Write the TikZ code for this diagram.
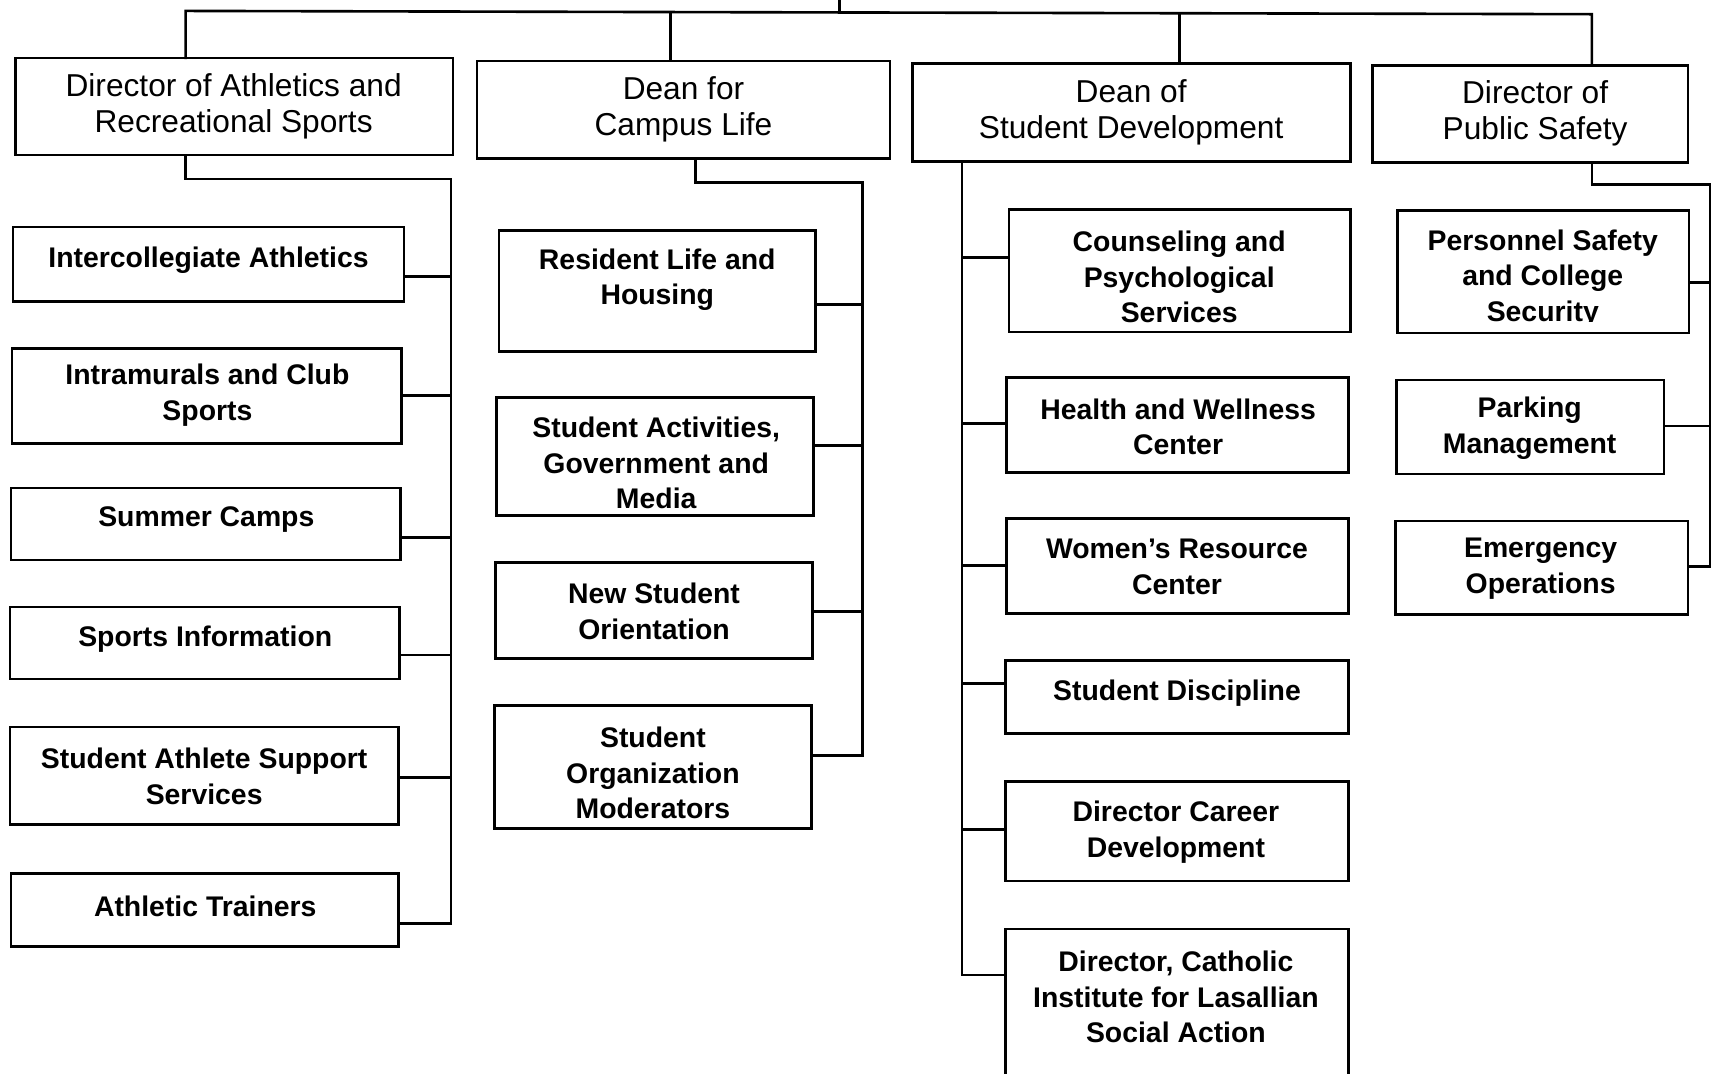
\documentclass[tikz,border=0pt]{standalone}
\usepackage{fontspec}
\setmainfont{Liberation Sans}
\tikzset{
  box/.style={draw=black, line width=2.4pt, fill=white, rectangle, inner sep=0pt, outer sep=0pt},
  toplbl/.style={align=center, font=\fontsize{29}{33}\selectfont, inner sep=0pt},
  lbl/.style={align=center, font=\bfseries\fontsize{26}{32.5}\selectfont, inner sep=0pt},
  conn/.style={draw=black, line width=2.4pt, line cap=rect, line join=miter},
}
\newcommand\orgbox[5]{%
  \node[box, minimum width={(#4-#2)*1pt}, minimum height={(#5-#3)*1pt}] (#1) at ({(#2+#4)/2},{(#3+#5)/2}) {};}
\begin{document}
\begin{tikzpicture}[x=1pt,y=-1pt]
\useasboundingbox (0,0) rectangle (1568,982.8);
% ---- top row boxes
\orgbox{b1}{14}{53}{415}{142}
\orgbox{b2}{437}{56}{815}{145}
\orgbox{b3}{836}{58}{1237}{148}
\orgbox{b4}{1257}{60}{1546}{149}
\node[toplbl] (tb1) at (214,97) {Director of Athletics and\\Recreational Sports};
\node[toplbl] (tb2) at (626,100) {Dean for\\Campus Life};
\node[toplbl] (tb3) at (1036,103) {Dean of\\Student Development};
\node[toplbl] (tb4) at (1406,104) {Director of\\Public Safety};
% ---- athletics children
\orgbox{a1}{12}{208}{370}{276}
\orgbox{a2}{11}{319}{368}{406}
\orgbox{a3}{10}{447}{367}{513}
\orgbox{a4}{9}{556}{366}{622}
\orgbox{a5}{9}{666}{365}{755}
\orgbox{a6}{10}{800}{365}{867}
\node[lbl] (ta1) at (191,238) {Intercollegiate Athletics};
\node[lbl] (ta2) at (190,362) {Intramurals and Club\\Sports};
\node[lbl] (ta3) at (189,476) {Summer Camps};
\node[lbl] (ta4) at (188,585) {Sports Information};
\node[lbl] (ta5) at (187,711) {Student Athlete Support\\Services};
\node[lbl] (ta6) at (188,830) {Athletic Trainers};
% ---- campus life children
\orgbox{c1}{457}{211}{747}{322}
\orgbox{c2}{455}{364}{745}{472}
\orgbox{c3}{454}{515}{744}{603}
\orgbox{c4}{453}{646}{743}{759}
\node[lbl] (tc1) at (602,256) {Resident Life and\\Housing};
\node[lbl] (tc2) at (601,424) {Student Activities,\\Government and\\Media};
\node[lbl] (tc3) at (599,560) {New Student\\Orientation};
\node[lbl] (tc4) at (598,708) {Student\\Organization\\Moderators};
% ---- student development children
\orgbox{d1}{924}{192}{1237}{304}
\orgbox{d2}{922}{346}{1235}{433}
\orgbox{d3}{922}{475}{1235}{562}
\orgbox{d4}{921}{605}{1235}{672}
\orgbox{d5}{921}{716}{1235}{807}
\orgbox{d6}{921}{851}{1235}{985}
\node[lbl] (td1) at (1080,254) {Counseling and\\Psychological\\Services};
\node[lbl] (td2) at (1079,391) {Health and Wellness\\Center};
\node[lbl] (td3) at (1078,519) {Women’s Resource\\Center};
\node[lbl] (td4) at (1078,635) {Student Discipline};
\node[lbl] (td5) at (1077,762) {Director Career\\Development};
\node[lbl] (td6) at (1077,913) {Director, Catholic\\Institute for Lasallian\\Social Action};
% ---- public safety children
\orgbox{p1}{1280}{193}{1547}{305}
\orgbox{p2}{1279}{348}{1524}{434}
\orgbox{p3}{1278}{477}{1546}{563}
\begin{scope}
  \clip (1282,195) rectangle (1545,294.5);
  \node[lbl] (tp1) at (1413,255) {Personnel Safety\\and College\\Security};
\end{scope}
\node[lbl] (tp2) at (1401,392) {Parking\\Management};
\node[lbl] (tp3) at (1411,521) {Emergency\\Operations};
% ---- bus coordinates
\coordinate (top) at (769,0);
\coordinate (busT) at (769,11);
\coordinate (busL) at (170,10);
\coordinate (bus2) at (614,11);
\coordinate (bus3) at (1080,12);
\coordinate (busR) at (1458,13);
\coordinate (aC) at (170,164);
\coordinate (aT) at (413,164);
\coordinate (aB) at (413,846);
\coordinate (cC) at (637,167);
\coordinate (cT) at (790,167);
\coordinate (cB) at (790,692);
\coordinate (dT) at (881,148);
\coordinate (dB) at (881,893);
\coordinate (pC) at (1458,169);
\coordinate (pT) at (1566,169);
\coordinate (pB) at (1566,519);
% ---- top connectors
\draw[conn] (top) -- (busT);
\draw[conn] (b1.north -| busL) -- (busL) -- (busR) -- (b4.north -| busR);
\draw[conn] (bus2) -- (b2.north -| bus2);
\draw[conn] (bus3) -- (b3.north -| bus3);
% ---- athletics connectors
\draw[conn] (b1.south -| aC) -- (aC) -- (aT) -- (aB);
\draw[conn] (a1.east |- 0,253) -- (aT |- 0,253);
\draw[conn] (a2.east |- 0,362) -- (aT |- 0,362);
\draw[conn] (a3.east |- 0,492) -- (aT |- 0,492);
\draw[conn] (a4.east |- 0,600) -- (aT |- 0,600);
\draw[conn] (a5.east |- 0,712) -- (aT |- 0,712);
\draw[conn] (a6.east |- aB) -- (aB);
% ---- campus life connectors
\draw[conn] (b2.south -| cC) -- (cC) -- (cT) -- (cB);
\draw[conn] (c1.east |- 0,279) -- (cT |- 0,279);
\draw[conn] (c2.east |- 0,408) -- (cT |- 0,408);
\draw[conn] (c3.east |- 0,560) -- (cT |- 0,560);
\draw[conn] (c4.east |- cB) -- (cB);
% ---- student development connectors
\draw[conn] (dT) -- (dB);
\draw[conn] (dT |- 0,236) -- (d1.west |- 0,236);
\draw[conn] (dT |- 0,388) -- (d2.west |- 0,388);
\draw[conn] (dT |- 0,518) -- (d3.west |- 0,518);
\draw[conn] (dT |- 0,626) -- (d4.west |- 0,626);
\draw[conn] (dT |- 0,760) -- (d5.west |- 0,760);
\draw[conn] (dB) -- (d6.west |- dB);
% ---- public safety connectors
\draw[conn] (b4.south -| pC) -- (pC) -- (pT) -- (pB);
\draw[conn] (p1.east |- 0,259) -- (pT |- 0,259);
\draw[conn] (p2.east |- 0,390) -- (pT |- 0,390);
\draw[conn] (p3.east |- pB) -- (pB);
\end{tikzpicture}
\end{document}
